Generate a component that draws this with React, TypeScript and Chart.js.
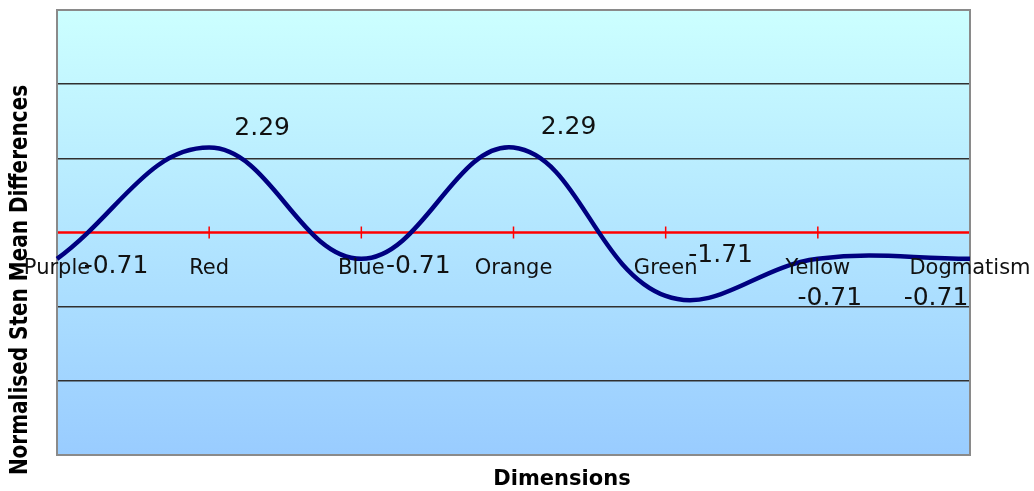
import React, { useEffect, useRef } from "react";
import { Chart, registerables } from "chart.js";

Chart.register(...registerables);

const categories = ["Purple", "Red", "Blue", "Orange", "Green", "Yellow", "Dogmatism"];
const values = [-0.71, 2.29, -0.71, 2.29, -1.71, -0.71, -0.71];
const valueLabels = ["-0.71", "2.29", "-0.71", "2.29", "-1.71", "-0.71", "-0.71"];
const yMin = -6;
const yMax = 6;
const yStep = 2;
const yTitle = "Normalised Sten Mean Differences";
const xTitle = "Dimensions";

// label placement relative to each point (px), mimicking the original layout
const labelOffsets: [number, number][] = [
  [59, 8],
  [53, -19],
  [57, 8],
  [55, -20],
  [55, -40],
  [12, 40],
  [-34, 40],
];

const decorPlugin = {
  id: "decor",
  beforeDraw(chart: any) {
    const { ctx, chartArea } = chart;
    const { left, top, right, bottom } = chartArea;
    ctx.save();
    const g = ctx.createLinearGradient(0, top, 0, bottom);
    g.addColorStop(0, "#CCFFFF");
    g.addColorStop(1, "#99CCFF");
    ctx.fillStyle = g;
    ctx.fillRect(left, top, right - left, bottom - top);
    ctx.restore();
  },
  beforeDatasetsDraw(chart: any) {
    const { ctx, chartArea, scales } = chart;
    const { left, top, right, bottom } = chartArea;
    const y0 = scales.y.getPixelForValue(0);
    ctx.save();
    ctx.strokeStyle = "#FF0000";
    ctx.lineWidth = 2.5;
    ctx.beginPath();
    ctx.moveTo(left, y0);
    ctx.lineTo(right, y0);
    ctx.stroke();
    ctx.lineWidth = 1.5;
    categories.forEach((_, i) => {
      const x = scales.x.getPixelForValue(i);
      ctx.beginPath();
      ctx.moveTo(x, y0 - 6);
      ctx.lineTo(x, y0 + 6);
      ctx.stroke();
    });
    // plot-area border
    ctx.strokeStyle = "#8A8A8A";
    ctx.lineWidth = 2;
    ctx.strokeRect(left, top, right - left, bottom - top);
    ctx.restore();
  },
  afterDatasetsDraw(chart: any) {
    const { ctx, scales } = chart;
    ctx.save();
    ctx.fillStyle = "#111111";
    ctx.font = "25px 'DejaVu Sans'";
    ctx.textAlign = "center";
    ctx.textBaseline = "middle";
    values.forEach((v, i) => {
      const x = scales.x.getPixelForValue(i);
      const y = scales.y.getPixelForValue(v);
      const [dx, dy] = labelOffsets[i];
      ctx.fillText(valueLabels[i], x + dx, y + dy);
    });
    // axis titles
    ctx.fillStyle = "#000000";
    ctx.font = "bold 20px 'DejaVu Sans'";
    ctx.save();
    ctx.translate(21, 280);
    ctx.rotate(-Math.PI / 2);
    ctx.scale(1, 1.2);
    ctx.fillText(yTitle, 0, 0);
    ctx.restore();
    ctx.font = "bold 21px 'DejaVu Sans'";
    ctx.fillText(xTitle, 562, 480);
    ctx.restore();
  },
};

export default function App() {
  const ref = useRef<HTMLCanvasElement | null>(null);
  useEffect(() => {
    if (!ref.current) return;
    const chart = new Chart(ref.current, {
      type: "line",
      data: {
        labels: categories,
        datasets: [
          {
            data: values,
            borderColor: "#000080",
            borderWidth: 4.5,
            tension: 0.4,
            pointRadius: 0,
            fill: false,
          },
        ],
      },
      options: {
        animation: false,
        responsive: false,
        layout: { padding: { left: 57, right: 64, top: 10, bottom: 36 } },
        plugins: {
          legend: { display: false },
          tooltip: { enabled: false },
          title: { display: false },
        },
        scales: {
          x: {
            type: "category",
            position: { y: 0 } as any,
            offset: false,
            grid: { display: false, drawTicks: false },
            border: { display: false },
            afterFit: (s: any) => {
              s.paddingLeft = 0;
              s.paddingRight = 0;
            },
            ticks: {
              autoSkip: false,
              maxRotation: 0,
              padding: 23,
              z: 1,
              color: "#111111",
              font: { family: "'DejaVu Sans'", size: 21 },
            },
          },
          y: {
            min: yMin,
            max: yMax,
            ticks: { display: false, stepSize: yStep },
            border: { display: false },
            grid: {
              drawTicks: false,
              lineWidth: 1.5,
              color: (c: any) =>
                c.tick && (c.tick.value === 0 || c.tick.value === yMin || c.tick.value === yMax)
                  ? "rgba(0,0,0,0)"
                  : "#303030",
            },
          },
        },
      },
      plugins: [decorPlugin],
    });
    return () => chart.destroy();
  }, []);
  return (
    <div style={{ position: "absolute", left: 0, top: 0, width: 1034, height: 491, background: "#fff" }}>
      <canvas ref={ref} width={1034} height={491} style={{ display: "block" }} />
    </div>
  );
}
